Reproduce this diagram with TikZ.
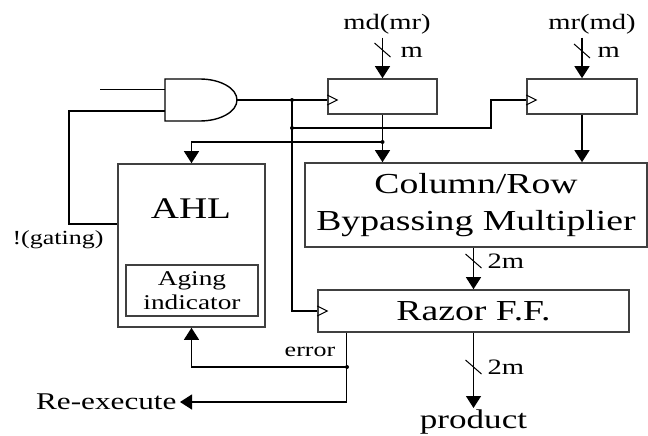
\documentclass[tikz,border=0pt]{standalone}
\usepackage{fontspec}
\setmainfont{Liberation Serif}[FakeStretch=1.3]
\usetikzlibrary{arrows.meta}

\begin{document}
\begin{tikzpicture}[x=1pt, y=-1pt,
  box/.style={draw=black!75, line width=1.6pt, inner sep=0pt},
  wire/.style={line width=1.3pt},
  arr/.style={wire, -{Triangle[width=15pt,length=12pt]}},
  big/.style={font=\fontsize{29}{37}\selectfont},
  mid/.style={font=\fontsize{22}{24}\selectfont},
  sml/.style={font=\fontsize{20}{24}\selectfont}]

\useasboundingbox (0,0) rectangle (648,436);

% registers and blocks
\node[box, minimum width=109pt, minimum height=35pt] (reg1) at (382.5,96.5) {};
\node[box, minimum width=110pt, minimum height=35pt] (reg2) at (582,96.5) {};
\node[box, big, align=center, minimum width=342pt, minimum height=84pt] (mult) at (476,205) {Column/Row\\Bypassing Multiplier};
\node[box, big, minimum width=311pt, minimum height=42pt] (razor) at (473.5,311) {Razor F.F.};
\node[box, minimum width=147pt, minimum height=163pt] (ahl) at (191.5,245.5) {};
\node[font=\fontsize{30}{30}\selectfont] (ahltxt) at (191,209) {AHL};
\node[box, font=\fontsize{21}{24}\selectfont, align=center, minimum width=132pt, minimum height=51pt] (aging) at (192,290.5) {Aging\\indicator};

% AND gate
\coordinate (in0) at (100,89.5);
\coordinate (in1) at (165,89.5);
\coordinate (in2) at (165,111);
\coordinate (andout) at (237,100);
\draw[line width=1.4pt] (165,79) -- (200,79) .. controls (220.4,79) and (237,88.4) .. (andout)
      .. controls (237,111.6) and (220.4,121) .. (200,121) -- (165,121) -- cycle;

% labels
\node[mid] (md) at (387,24) {md(mr)};
\node[mid] (mr) at (592,24) {mr(md)};
\node[mid, anchor=west] (m1) at (397,52) {m};
\node[mid, anchor=west] (m2) at (594,52) {m};
\node[mid, anchor=west] (w1) at (484,261) {2m};
\node[mid, anchor=west] (w2) at (484,367) {2m};
\node[font=\fontsize{27}{27}\selectfont, anchor=north, inner ysep=2pt, inner xsep=0pt] (product) at (473.5,408) {product};
\node[sml] (errlbl) at (310,352) {error};
\node[sml] (gating) at (58,240) {!(gating)};
\node[font=\fontsize{24}{24}\selectfont, anchor=east] (reexec) at (180,402) {Re-execute};

% clock net
\coordinate (ck1) at (reg1.west |- andout);
\coordinate (ck2) at (reg2.west |- andout);
\coordinate (j1) at (292,100);
\coordinate (j2) at (292,128);
\coordinate (j3) at (382.5,142);
\coordinate (j4) at (347,367);
\coordinate (err) at ([xshift=29pt]razor.south west);
\coordinate (g1) at (69,111);

\draw[wire] (in0) -- (in1);
\draw[wire] (in2) -- (g1) |- ([yshift=21.5pt]ahl.west); % !(gating)
\draw[wire] (andout) -- (ck1);
\draw[wire] (j1) |- (razor.west);
\draw[wire] (j2) -- (491,128) -- (491,100) -- (ck2);
\foreach \ck in {ck1,ck2,razor.west}
  \draw[line width=1pt] ([yshift=5pt]\ck) -- ([xshift=10pt]\ck) -- ([yshift=-5pt]\ck);

% data path
\draw[arr] (md.south -| reg1.north) -- (reg1.north);
\draw[arr] (mr.south -| reg2.north) -- (reg2.north);
\draw[arr] (reg1.south) -- (reg1.south |- mult.north);
\draw[arr] (reg2.south) -- (reg2.south |- mult.north);
\draw[arr] (j3) -| (ahl.north);
\draw[arr] (razor.north |- mult.south) -- (razor.north);
\draw[arr] (razor.south) -- (product);
\draw[arr] (err) |- (reexec.east);
\draw[arr] (j4) -| (ahl.south);

% bus width marks
\foreach \sx/\sy in {382.5/50, 582/51, 473.5/261, 473.5/367}
  \draw[line width=1pt] (\sx-8,\sy-7) -- (\sx+8,\sy+7);

\foreach \j in {j1,j2,j3,j4}
  \fill (\j) circle (2pt);
\end{tikzpicture}
\end{document}
